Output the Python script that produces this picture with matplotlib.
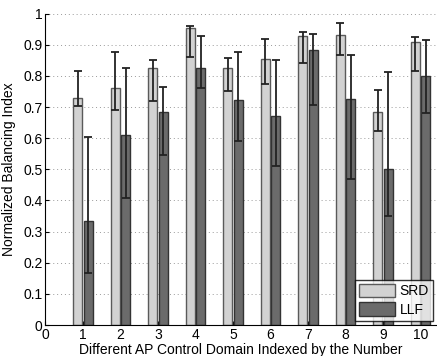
import numpy as np
import matplotlib
matplotlib.use("Agg")
import matplotlib.pyplot as plt

plt.rcParams['font.family'] = ['Liberation Sans', 'DejaVu Sans']

domains = [1, 2, 3, 4, 5, 6, 7, 8, 9, 10]

srd_mean = [0.730, 0.760, 0.827, 0.955, 0.827, 0.856, 0.927, 0.933, 0.683, 0.908]
srd_low = [0.705, 0.690, 0.720, 0.862, 0.752, 0.773, 0.843, 0.868, 0.622, 0.816]
srd_high = [0.815, 0.877, 0.852, 0.960, 0.857, 0.918, 0.940, 0.970, 0.756, 0.926]

llf_mean = [0.333, 0.610, 0.683, 0.825, 0.722, 0.670, 0.884, 0.727, 0.501, 0.800]
llf_low = [0.168, 0.407, 0.547, 0.760, 0.590, 0.512, 0.706, 0.470, 0.351, 0.680]
llf_high = [0.604, 0.826, 0.766, 0.927, 0.877, 0.852, 0.934, 0.867, 0.813, 0.914]

x = np.array(domains, dtype=float)
srd_mean = np.array(srd_mean)
llf_mean = np.array(llf_mean)
srd_err = [srd_mean - np.array(srd_low), np.array(srd_high) - srd_mean]
llf_err = [llf_mean - np.array(llf_low), np.array(llf_high) - llf_mean]

fig = plt.figure(figsize=(4.37, 3.56), dpi=100)
ax = fig.add_axes([0.104, 0.087, 0.896, 0.8745])

w = 0.25
ax.bar(x - 0.14, srd_mean, w, color='#d2d2d2', edgecolor='#5a5a5a', linewidth=1.0,
       label='SRD', zorder=2)
ax.bar(x + 0.14, llf_mean, w, color='#6b6b6b', edgecolor='#333333', linewidth=1.0,
       label='LLF', zorder=2)
ax.errorbar(x - 0.14, srd_mean, yerr=srd_err, fmt='none', ecolor='#222222',
            elinewidth=1.3, capsize=2.6, capthick=1.3, zorder=3)
ax.errorbar(x + 0.14, llf_mean, yerr=llf_err, fmt='none', ecolor='#222222',
            elinewidth=1.3, capsize=2.6, capthick=1.3, zorder=3)

ax.set_xlim(0, 10.44)
ax.set_ylim(0, 1)
ax.set_xticks(np.arange(0, 11))
ax.set_yticks(np.arange(0, 1.01, 0.1))
ax.set_yticklabels(['0', '0.1', '0.2', '0.3', '0.4', '0.5', '0.6', '0.7', '0.8', '0.9', '1'])
ax.yaxis.grid(True, linestyle=(0, (1, 3)), color='#999999', linewidth=0.7, zorder=0)
ax.set_axisbelow(True)
ax.spines['top'].set_visible(False)
ax.spines['right'].set_visible(False)
ax.tick_params(direction='in', length=3, labelsize=10, pad=2)

ax.set_xlabel('Different AP Control Domain Indexed by the Number', fontsize=10, labelpad=1)
ax.set_ylabel('Normalized Balancing Index', fontsize=10, labelpad=5)

leg = ax.legend(loc='lower right', fontsize=10, frameon=True, fancybox=False,
                edgecolor='black', borderaxespad=0.3, handlelength=2.6,
                handleheight=1.1, handletextpad=0.3, borderpad=0.3, labelspacing=0.3)
leg.get_frame().set_linewidth(1.0)

fig.savefig('out.png', dpi=100)
